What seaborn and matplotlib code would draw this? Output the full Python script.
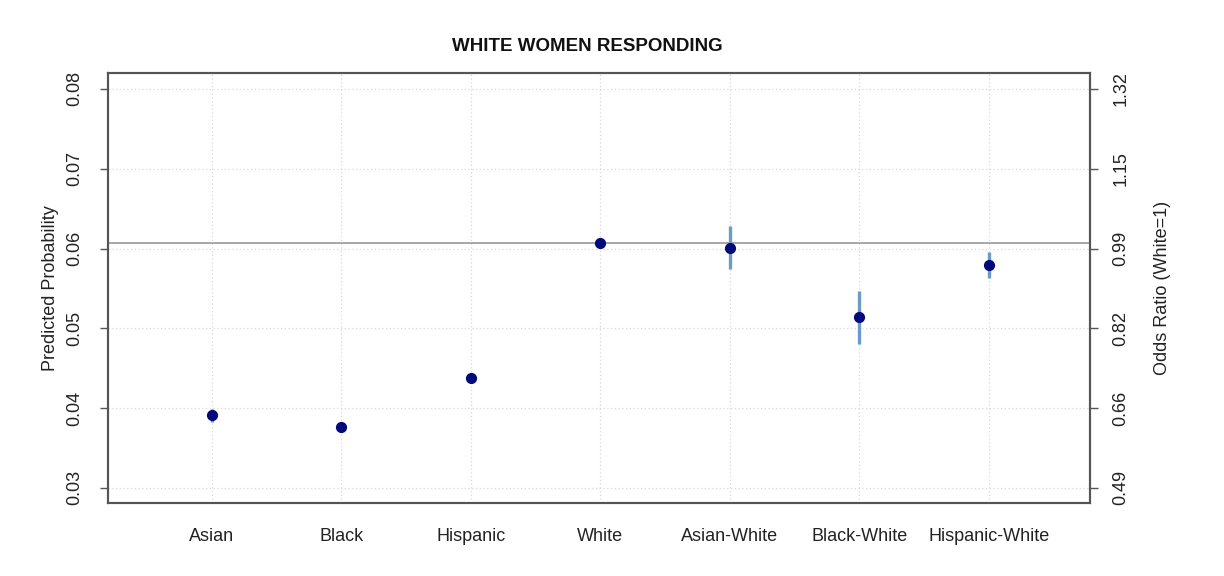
import matplotlib
matplotlib.use("Agg")
import matplotlib.pyplot as plt
import seaborn as sns
import pandas as pd

categories = ["Asian", "Black", "Hispanic", "White", "Asian-White", "Black-White", "Hispanic-White"]
prob = [0.0391, 0.0376, 0.0438, 0.0607, 0.0601, 0.0514, 0.0579]
lower = [0.0383, 0.0370, 0.0433, 0.0605, 0.0574, 0.0480, 0.0563]
upper = [0.0399, 0.0382, 0.0443, 0.0609, 0.0628, 0.0547, 0.0595]
left_ticks = [0.03, 0.04, 0.05, 0.06, 0.07, 0.08]
left_labels = ["0.03", "0.04", "0.05", "0.06", "0.07", "0.08"]
right_labels = ["0.49", "0.66", "0.82", "0.99", "1.15", "1.32"]
ref_value = 0.0607

sns.set_theme(style="white")
plt.rcParams['font.family'] = ['Liberation Sans', 'DejaVu Sans']

df = pd.DataFrame({"pos": range(1, len(categories) + 1), "prob": prob,
                   "lower": lower, "upper": upper})

fig = plt.figure(figsize=(12.24, 5.76), dpi=100)
ax = fig.add_axes([0.0882, 0.1267, 0.8023, 0.7466])

for t in left_ticks:
    ax.axhline(t, color="#d8d8d8", lw=0.9, ls=(0, (1, 2)), zorder=0)
for p in df["pos"]:
    ax.axvline(p, color="#d8d8d8", lw=0.9, ls=(0, (1, 2)), zorder=0)

ax.axhline(ref_value, color="#a0a0a0", lw=1.3, zorder=1)
ax.vlines(df["pos"], df["lower"], df["upper"], color="#6a9cc6", lw=2.4, zorder=2)
sns.scatterplot(data=df, x="pos", y="prob", ax=ax, color="#000a78", s=65,
                edgecolor="#000a78", linewidth=0, zorder=3, legend=False)

ax.set_xlim(0.2, 7.78)
ax.set_ylim(0.0281, 0.0820)
ax.set_xticks(list(df["pos"]))
ax.set_xticklabels(categories, fontsize=13, color="#222222")
ax.set_yticks(left_ticks)
ax.set_yticklabels(left_labels, fontsize=13, color="#222222", rotation=90, va="center")
ax.tick_params(axis="x", length=0, pad=18)
ax.tick_params(axis="y", length=6, width=1, color="#555555", pad=12, direction="out")
ax.set_xlabel("")
ax.set_ylabel("Predicted Probability", fontsize=13, color="#222222", labelpad=5)
for s in ax.spines.values():
    s.set_color("#555555")
    s.set_linewidth(1.5)

ax2 = ax.twinx()
ax2.set_ylim(ax.get_ylim())
ax2.set_yticks(left_ticks)
ax2.set_yticklabels(right_labels, fontsize=13, color="#222222", rotation=90, va="center")
ax2.tick_params(axis="y", length=6, width=1, color="#555555", pad=10, direction="out")
ax2.set_ylabel("Odds Ratio (White=1)", fontsize=13, color="#222222", labelpad=18)
for s in ax2.spines.values():
    s.set_color("#555555")
    s.set_linewidth(1.5)

ax.set_title("WHITE WOMEN RESPONDING", fontsize=13.5, fontweight="bold", color="#111111",
             pad=16, x=0.488)

fig.savefig("out.png", dpi=100, facecolor="white")
